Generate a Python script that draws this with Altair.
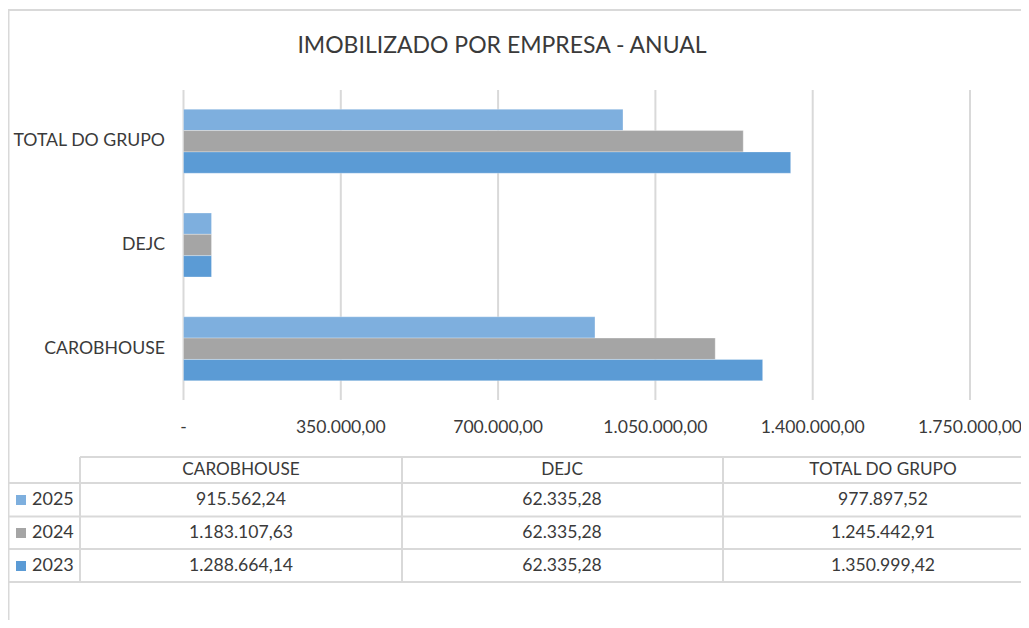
import altair as alt
import pandas as pd

# ---- data ----
title_text = "IMOBILIZADO POR EMPRESA - ANUAL"
companies = ["CAROBHOUSE", "DEJC", "TOTAL DO GRUPO"]          # table column order
companies_top_down = ["TOTAL DO GRUPO", "DEJC", "CAROBHOUSE"]  # bar order (top -> bottom)
years = ["2025", "2024", "2023"]
values_2025 = [915562.24, 62335.28, 977897.52]
values_2024 = [1183107.63, 62335.28, 1245442.91]
values_2023 = [1288664.14, 62335.28, 1350999.42]
tick_values = [0, 350000, 700000, 1050000, 1400000, 1750000]
tick_labels = ["-", "350.000,00", "700.000,00", "1.050.000,00", "1.400.000,00", "1.750.000,00"]
colors = ["#7EAFDE", "#A5A5A5", "#5B9BD5"]


def br(v):
    s = f"{v:,.2f}"
    return s.replace(",", "X").replace(".", ",").replace("X", ".")


rows = []
for y, vals in zip(years, [values_2025, values_2024, values_2023]):
    for c, v in zip(companies, vals):
        rows.append({"year": y, "company": c, "value": v, "label": br(v)})
df = pd.DataFrame(rows)
ticks = pd.DataFrame({"v": tick_values, "t": tick_labels})
cats = pd.DataFrame({"company": companies})
yrs = pd.DataFrame({"year": years})

FONT = "Lato"
TXT = "#3A3A3A"
GRID = "#D9D9D9"

# ---- scales (pixel ranges define layout) ----
xs = alt.Scale(domain=[0, 1750000], range=[175.5, 962], nice=False, zero=True)
ys = alt.Scale(domain=companies_top_down, range=[81.5, 392.5], paddingInner=0.383, paddingOuter=0.19)
col_scale = alt.Scale(type="point", domain=companies, range=[233, 875], padding=0)
row_scale = alt.Scale(type="point", domain=years, range=[492, 558], padding=0)
cscale = alt.Scale(domain=years, range=colors)

# frame / table grid lines (layout decoration)
frame = pd.DataFrame([
    # outer chart border (top, left)
    {"x": 0, "x2": 1013, "y": 2, "y2": 2},
    {"x": 0.5, "x2": 0.5, "y": 2, "y2": 612},
    # table horizontal lines
    {"x": 72, "x2": 1013, "y": 449, "y2": 449},
    {"x": 0, "x2": 1013, "y": 475, "y2": 475},
    {"x": 0, "x2": 1013, "y": 508.5, "y2": 508.5},
    {"x": 0, "x2": 1013, "y": 541, "y2": 541},
    {"x": 0, "x2": 1013, "y": 574, "y2": 574},
    # table vertical lines
    {"x": 72, "x2": 72, "y": 449, "y2": 574},
    {"x": 394, "x2": 394, "y": 449, "y2": 574},
    {"x": 715, "x2": 715, "y": 449, "y2": 574},
])

frame_layer = alt.Chart(frame).mark_rule(color=GRID, strokeWidth=2).encode(
    x=alt.X("x:Q", scale=None), x2="x2:Q",
    y=alt.Y("y:Q", scale=None), y2="y2:Q",
)

grid = alt.Chart(ticks).mark_rule(color=GRID, strokeWidth=2).encode(
    x=alt.X("v:Q", scale=xs, axis=None),
    y=alt.value(82), y2=alt.value(392),
)

bars = alt.Chart(df).mark_bar(stroke="white", strokeWidth=0.5, strokeOpacity=0.6).encode(
    x=alt.X("value:Q", scale=xs, axis=None),
    y=alt.Y("company:N", scale=ys, axis=None),
    yOffset=alt.YOffset("year:N", scale=alt.Scale(domain=years)),
    color=alt.Color("year:N", scale=cscale, legend=None),
)

ylabels = alt.Chart(cats).mark_text(align="right", baseline="middle", font=FONT, fontSize=17.7, color=TXT).encode(
    y=alt.Y("company:N", scale=ys, axis=None),
    x=alt.value(157),
    text="company:N",
)

xlabels = alt.Chart(ticks).mark_text(align="center", baseline="middle", font=FONT, fontSize=17.6, color=TXT).encode(
    x=alt.X("v:Q", scale=xs, axis=None),
    y=alt.value(420),
    text="t:N",
)

title = alt.Chart(pd.DataFrame({"t": [title_text]})).mark_text(
    align="center", baseline="middle", font=FONT, fontSize=23, color=TXT
).encode(x=alt.value(494), y=alt.value(38), text="t:N")

header = alt.Chart(cats).mark_text(align="center", baseline="middle", font=FONT, fontSize=17.2, color=TXT).encode(
    x=alt.X("company:N", scale=col_scale, axis=None),
    y=alt.value(462),
    text="company:N",
)

cells = alt.Chart(df).mark_text(align="center", baseline="middle", font=FONT, fontSize=17.6, color=TXT).encode(
    x=alt.X("company:N", scale=col_scale, axis=None),
    y=alt.Y("year:N", scale=row_scale, axis=None),
    text="label:N",
)

keys = alt.Chart(yrs).mark_square(size=100, opacity=1).encode(
    x=alt.value(13),
    y=alt.Y("year:N", scale=row_scale, axis=None),
    color=alt.Color("year:N", scale=cscale, legend=None),
)

keylabels = alt.Chart(yrs).mark_text(align="left", baseline="middle", font=FONT, fontSize=18, color=TXT).encode(
    x=alt.value(24),
    y=alt.Y("year:N", scale=row_scale, axis=None),
    text="year:N",
)

chart = alt.layer(
    frame_layer, grid, bars, ylabels, xlabels, title, header, cells, keys, keylabels
).resolve_scale(
    x="independent", y="independent", color="independent", yOffset="independent"
).properties(
    width=1013, height=612,
    autosize=alt.AutoSizeParams(type="none"),
    padding=0,
    background="white",
).configure_view(stroke=None)

chart.save("out.html", embed_options={"renderer": "svg", "actions": False})
